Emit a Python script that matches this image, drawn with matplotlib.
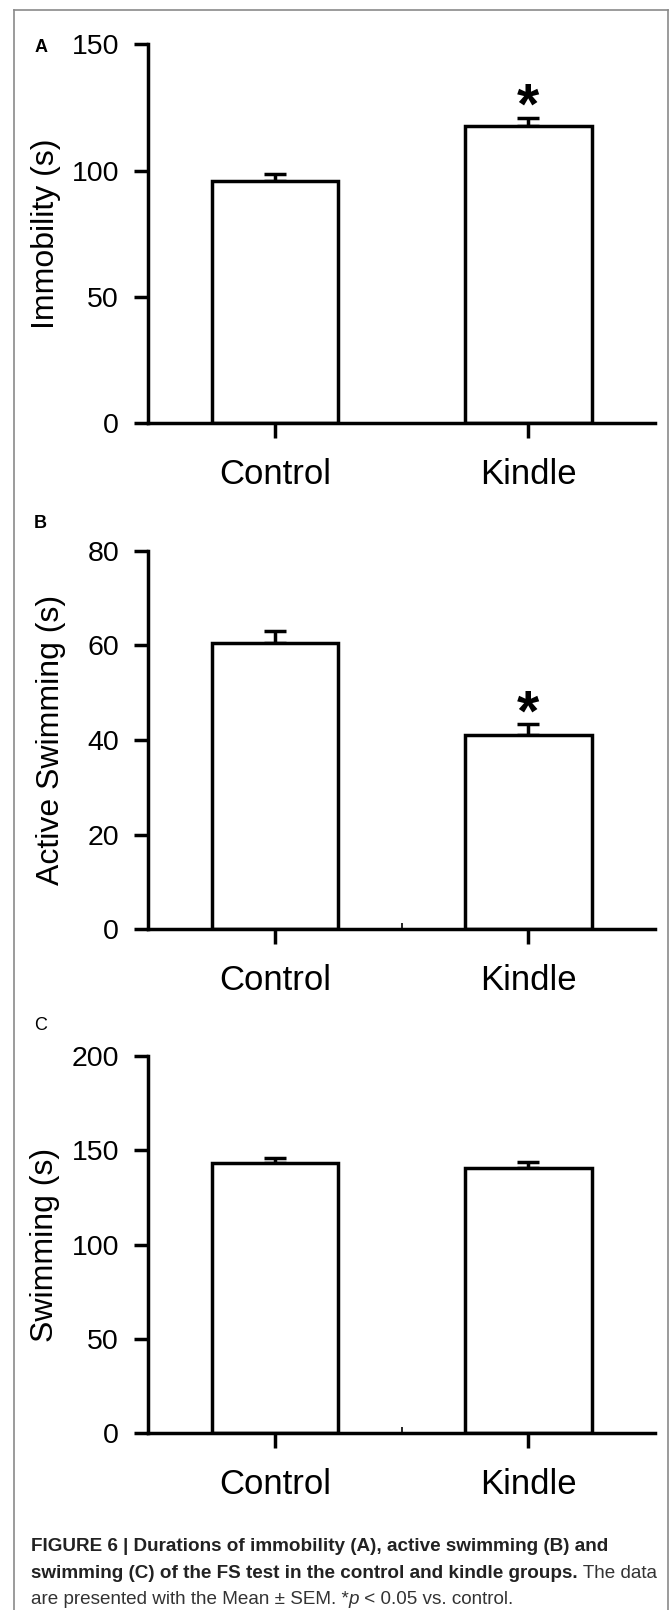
import matplotlib
matplotlib.use('Agg')
import matplotlib.pyplot as plt
from matplotlib.lines import Line2D

# ---- data ----
groups = ['Control', 'Kindle']
immobility_mean = [96.0, 117.8]
immobility_sem = [2.7, 3.2]
active_mean = [60.6, 41.0]
active_sem = [2.5, 2.3]
swimming_mean = [143.1, 140.4]
swimming_sem = [2.6, 3.2]
immobility_sig = [False, True]
active_sig = [False, True]
swimming_sig = [False, False]
panel_letters = ['A', 'B', 'C']
ylabels = ['Immobility (s)', 'Active Swimming (s)', 'Swimming (s)']
yticks_A = [0, 50, 100, 150]
yticks_B = [0, 20, 40, 60, 80]
yticks_C = [0, 50, 100, 150, 200]

W, H = 671, 1610
fig = plt.figure(figsize=(W / 100, H / 100), dpi=100)
fig.patch.set_facecolor('white')

FONT = ['Liberation Sans', 'DejaVu Sans']
LW = 2.5

# outer frame (grey, open at the bottom)
fc = '#8a8a8a'
fig.add_artist(Line2D([14 / W, 14 / W], [0, 1 - 10 / H], color=fc, lw=1.2, transform=fig.transFigure))
fig.add_artist(Line2D([14 / W, 667.5 / W], [1 - 10 / H, 1 - 10 / H], color=fc, lw=1.2, transform=fig.transFigure))
fig.add_artist(Line2D([667.5 / W, 667.5 / W], [0, 1 - 10 / H], color=fc, lw=1.2, transform=fig.transFigure))

panels = [
    dict(mean=immobility_mean, sem=immobility_sem, sig=immobility_sig, ticks=yticks_A,
         top=44.5, bottom=423.3, letter_y=48, label_x=46, letter_bold=True, minor=False),
    dict(mean=active_mean, sem=active_sem, sig=active_sig, ticks=yticks_B,
         top=550.7, bottom=929.3, letter_y=523, label_x=51, letter_bold=True, minor=True),
    dict(mean=swimming_mean, sem=swimming_sem, sig=swimming_sig, ticks=yticks_C,
         top=1056, bottom=1433.3, letter_y=1025, label_x=45, letter_bold=False, minor=True),
]

ax_left, ax_right = 148.3, 655
x = list(range(len(groups)))

for i, p in enumerate(panels):
    ax = fig.add_axes([ax_left / W, 1 - p['bottom'] / H,
                       (ax_right - ax_left) / W, (p['bottom'] - p['top']) / H])
    ax.bar(x, p['mean'], width=0.5, color='white', edgecolor='black', linewidth=LW, zorder=2)
    lower = [0] * len(p['sem'])
    ax.errorbar(x, p['mean'], yerr=[lower, p['sem']], fmt='none', ecolor='black',
                elinewidth=LW, capsize=8, capthick=LW, zorder=1)
    ymax = p['ticks'][-1]
    ax.set_ylim(0, ymax)
    ax.set_xlim(-0.5, 1.5)
    ax.set_yticks(p['ticks'])
    ax.set_yticklabels([str(t) for t in p['ticks']], fontsize=20.5, family=FONT)
    ax.set_xticks(x)
    ax.set_xticklabels(groups, fontsize=25, family=FONT)
    for s in ['top', 'right']:
        ax.spines[s].set_visible(False)
    for s in ['left', 'bottom']:
        ax.spines[s].set_linewidth(LW)
    ax.tick_params(axis='y', direction='out', length=10, width=LW, pad=11)
    ax.tick_params(axis='x', direction='out', length=11, width=LW, pad=14)
    if p['minor']:
        ax.set_xticks([0.5], minor=True)
        ax.tick_params(axis='x', which='minor', direction='in', length=4, width=1.2)
    for xi, m, s, sg in zip(x, p['mean'], p['sem'], p['sig']):
        if sg:
            ax.annotate('*', xy=(xi, m + s), xytext=(0, -4.5), textcoords='offset points',
                        ha='center', va='baseline', fontsize=41, fontweight='bold', family=FONT)
    fig.text(p['label_x'] / W, 1 - ((p['top'] + p['bottom']) / 2) / H, ylabels[i],
             rotation=90, ha='center', va='center', fontsize=23, family=FONT)
    fig.text(40.6 / W, 1 - p['letter_y'] / H, panel_letters[i], ha='center', va='center',
             fontsize=13, fontweight='bold' if p['letter_bold'] else 'normal', family=FONT)

# ---- caption ----
CFONT = ['Liberation Sans Narrow', 'Liberation Sans', 'DejaVu Sans']
cs = 13.6
cx = 31 / W
line_y = [1546.7, 1573.3, 1599]
t1 = fig.text(cx, 1 - line_y[0] / H,
              'FIGURE 6 | Durations of immobility (A), active swimming (B) and',
              fontsize=cs, fontweight='bold', family=CFONT, color='#222222', va='center')
t2 = fig.text(cx, 1 - line_y[1] / H,
              'swimming (C) of the FS test in the control and kindle groups.',
              fontsize=cs, fontweight='bold', family=CFONT, color='#222222', va='center')
t2b = plt.annotate(' The data', xy=(1, 0), xycoords=t2, va='bottom', ha='left',
                   fontsize=cs, family=CFONT, color='#333333', annotation_clip=False)
t3 = fig.text(cx, 1 - line_y[2] / H, 'are presented with the Mean \u00b1 SEM. *',
              fontsize=cs, family=CFONT, color='#333333', va='center')
t3b = plt.annotate('p', xy=(1, 0), xycoords=t3, va='bottom', ha='left',
                   fontsize=cs, family=CFONT, style='italic', color='#333333',
                   annotation_clip=False)
t3c = plt.annotate(' < 0.05 vs. control.', xy=(1, 0), xycoords=t3b, va='bottom', ha='left',
                   fontsize=cs, family=CFONT, color='#333333', annotation_clip=False)

fig.savefig('out.png', dpi=100, facecolor='white')
